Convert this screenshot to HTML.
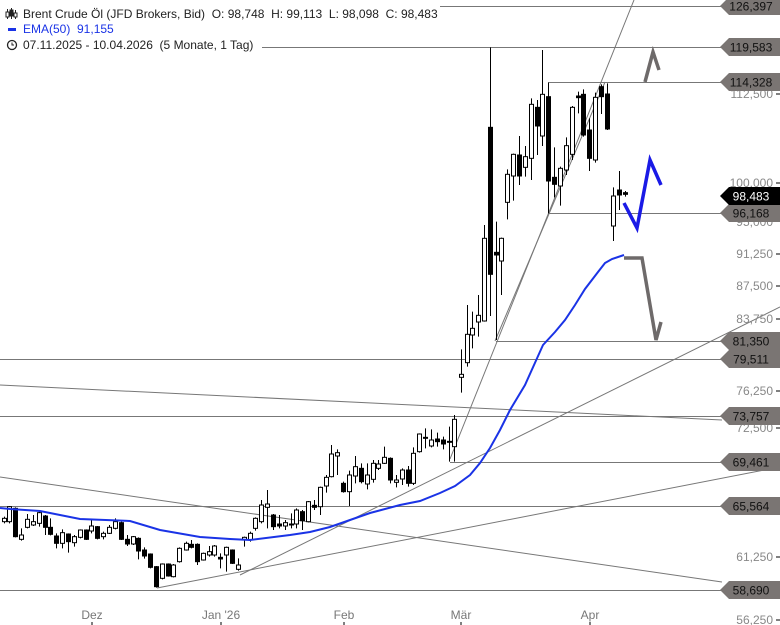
<!DOCTYPE html>
<html><head><meta charset="utf-8"><style>
body{margin:0;background:#fff;}
svg{display:block;font-family:"Liberation Sans",sans-serif;}
.pre{white-space:pre;}
</style></head><body>
<svg id="s" width="780" height="625" xmlns="http://www.w3.org/2000/svg">
<g stroke="#777" stroke-width="1" fill="none">
<line x1="0" y1="6.5" x2="722" y2="6.5"/>
<line x1="0" y1="47.5" x2="722" y2="47.5"/>
<line x1="548" y1="82.5" x2="722" y2="82.5"/>
<line x1="548" y1="213.5" x2="722" y2="213.5"/>
<line x1="496" y1="341.5" x2="722" y2="341.5"/>
<line x1="0" y1="359.5" x2="722" y2="359.5"/>
<line x1="0" y1="416.5" x2="722" y2="416.5"/>
<line x1="450" y1="462.5" x2="722" y2="462.5"/>
<line x1="0" y1="506.5" x2="722" y2="506.5"/>
<line x1="0" y1="590.5" x2="722" y2="590.5"/>
<line x1="0" y1="385" x2="722" y2="420"/>
<line x1="0" y1="477" x2="722" y2="582"/>
<line x1="157" y1="588" x2="780" y2="467"/>
<line x1="240" y1="575" x2="780" y2="307"/>
<line x1="450" y1="459" x2="634" y2="0"/>
<line x1="495" y1="341" x2="605" y2="82"/>
</g>
<g id="c"></g>
<polyline fill="none" stroke="#1a33e6" stroke-width="2" points="0,508 10,509 40,511 80,519 130,521 160,530 200,537 230,539 250,540 290,535 310,532 330,527 370,513 400,505 420,501 440,493 455,486 470,475 480,463 490,448 500,430 510,410 525,385 543,345 555,332 565,320 575,305 585,289 598,272 605,263 612,259 624,255"/>
<polyline fill="none" stroke="#6e6a6a" stroke-width="3.5" points="645,82 653,52 659,70"/>
<polyline fill="none" stroke="#1a1ae6" stroke-width="3.5" points="624,203 637,228 650,160 661,185"/>
<polyline fill="none" stroke="#6e6a6a" stroke-width="3.5" points="624,258 642,258 656,340 661,322"/>
<g font-size="12" fill="#888" text-anchor="end">
<text x="773" y="98">112,500</text>
<text x="773" y="187">100,000</text>
<text x="773" y="226">95,000</text>
<text x="773" y="258">91,250</text>
<text x="773" y="290">87,500</text>
<text x="773" y="323">83,750</text>
<text x="773" y="395">76,250</text>
<text x="773" y="432">72,500</text>
<text x="773" y="561">61,250</text>
<text x="773" y="624">56,250</text>
</g>
<g stroke="#000"><line x1="776" y1="94" x2="780" y2="94"/><line x1="776" y1="183" x2="780" y2="183"/><line x1="776" y1="254" x2="780" y2="254"/><line x1="776" y1="286" x2="780" y2="286"/><line x1="776" y1="319" x2="780" y2="319"/><line x1="776" y1="391" x2="780" y2="391"/><line x1="776" y1="428" x2="780" y2="428"/><line x1="776" y1="557" x2="780" y2="557"/><line x1="776" y1="620" x2="780" y2="620"/></g>
<g id="tags" font-size="12" text-anchor="middle"></g>
<g font-size="12" fill="#777" text-anchor="middle">
<text x="92" y="619">Dez</text><text x="221" y="619">Jan '26</text><text x="344" y="619">Feb</text><text x="461" y="619">Mär</text><text x="590" y="619">Apr</text>
</g>
<g stroke="#000"><line x1="92" y1="622" x2="92" y2="625"/><line x1="221" y1="622" x2="221" y2="625"/><line x1="344" y1="622" x2="344" y2="625"/><line x1="461" y1="622" x2="461" y2="625"/><line x1="590" y1="622" x2="590" y2="625"/></g>
<rect x="0" y="0" width="440" height="13" fill="#fff"/>
<rect x="0" y="38" width="262" height="16" fill="#fff"/>
<g stroke="#222" fill="none">
<line x1="7.5" y1="9" x2="7.5" y2="19"/><rect x="6" y="12" width="3" height="5" fill="#fff"/>
<line x1="11.5" y1="8" x2="11.5" y2="19"/><rect x="10" y="10" width="3" height="6" fill="#222"/>
<line x1="15.5" y1="10" x2="15.5" y2="19"/><rect x="14" y="13" width="3" height="4" fill="#fff"/>
</g>
<g font-size="12" fill="#222">
<text x="23" y="18" class="pre">Brent Crude Öl (JFD Brokers, Bid)  O: 98,748  H: 99,113  L: 98,098  C: 98,483</text>
<rect x="8" y="28" width="8" height="3" fill="#1a33e6"/>
<text x="23" y="33" fill="#1a33e6" class="pre">EMA(50)  91,155</text>
<circle cx="12" cy="45" r="4.5" fill="none" stroke="#222" stroke-width="1.3"/>
<path d="M12 42.5V45h2" fill="none" stroke="#222"/>
<text x="23" y="49" class="pre">07.11.2025 - 10.04.2026  (5 Monate, 1 Tag)</text>
</g>
</svg>
<script>
var NS="http://www.w3.org/2000/svg",g=document.getElementById('c');
function add(ox,oy,arr){arr.forEach(function(d){var x=Math.round(ox+d[0]/3)+.5,b1=oy+d[1]/3,b2=oy+d[2]/3,h=oy+d[3]/3,l=oy+d[4]/3;
var ln=document.createElementNS(NS,'line');ln.setAttribute('x1',x);ln.setAttribute('x2',x);ln.setAttribute('y1',h);ln.setAttribute('y2',l);ln.setAttribute('stroke','#000');g.appendChild(ln);
var r=document.createElementNS(NS,'rect');r.setAttribute('x',x-2);r.setAttribute('width',4);r.setAttribute('y',b1);r.setAttribute('height',Math.max(1,b2-b1));r.setAttribute('fill',d[5]?'#000':'#fff');r.setAttribute('stroke','#000');g.appendChild(r);});}
add(0,440,[[12,235,245,230,250,0],[28,200,245,198,250,0],[45,205,290,202,292,1],[63,285,298,265,302,0],[82,238,262,222,265,0],[99,245,255,225,258,0],[118,218,250,210,260,0],[135,228,262,225,285,1],[150,262,283,235,286,1],[168,288,310,280,325,1],[186,278,310,268,325,0],[205,282,305,280,338,1],[222,290,308,285,320,0],[240,270,292,268,295,0],[258,270,298,268,300,1],[274,258,273,240,280,0],[292,260,295,258,298,1],[310,280,290,275,298,0],[328,262,280,255,282,0],[346,245,265,235,268,0],[364,248,298,245,300,1],[382,298,312,285,318,1],[398,290,312,288,315,0],[415,295,333,292,358,1],[433,330,348,322,356,1],[450,342,382,340,385,1],[469,380,440,378,443,1],[487,372,415,370,418,0],[505,372,408,370,410,1],[520,375,410,372,412,0],[538,325,365,322,368,0],[557,310,330,305,332,0],[573,313,322,300,325,1],[592,313,365,310,375,1],[610,340,360,338,362,0],[627,335,345,318,350,0],[643,318,345,315,350,0],[660,352,357,340,385,1],[679,322,345,320,395,0],[697,330,370,328,372,1],[714,375,388,355,392,0]]);
add(240,400,[[12,412,420,410,440,0],[30,400,420,395,425,0],[45,355,385,352,392,0],[63,315,365,300,370,0],[80,312,322,270,385,0],[100,345,380,342,390,1],[118,372,378,345,385,1],[135,368,378,360,390,0],[152,372,375,340,385,0],[168,330,372,325,385,0],[187,335,362,330,390,1],[205,305,365,303,367,0],[222,316,322,300,330,1],[240,262,320,260,345,0],[258,232,258,225,278,0],[273,162,230,135,232,0],[291,158,168,148,225,0],[310,250,275,245,278,1],[328,225,275,212,318,0],[346,200,228,168,250,0],[364,205,245,190,250,1],[382,225,252,190,268,0],[398,190,238,180,248,0],[415,192,205,180,210,0],[432,172,190,140,192,0],[451,175,240,172,250,1],[469,240,247,225,262,0],[487,210,237,205,255,0],[505,210,250,198,260,1],[520,160,250,142,255,0],[538,102,155,100,158,0],[556,112,115,85,145,1],[573,120,138,88,142,0],[591,117,125,98,140,1],[610,120,132,110,148,1],[627,124,127,80,185,1],[643,58,140,45,185,0]]);
add(440,40,[[62,1003,1012,928,1058,0],[80,883,968,795,980,0],[97,865,885,815,925,0],[115,826,846,765,890,0],[133,595,843,555,845,0],[151,262,703,22,828,1],[167,637,645,545,900,1],[184,595,663,593,765,0],[202,403,487,388,538,0],[220,343,408,341,482,0],[238,345,408,288,435,1],[256,350,382,318,410,0],[274,193,355,175,420,0],[290,202,258,180,345,1],[307,163,288,30,318,0],[325,170,423,128,520,1],[343,412,433,322,472,1],[361,385,438,380,497,0],[379,317,390,292,405,0],[397,202,343,198,360,0],[413,168,173,155,220,1],[430,163,285,148,290,1],[448,270,355,235,393,1],[466,172,360,158,368,0],[484,140,170,133,222,1],[502,162,267,130,270,1],[520,468,558,442,603,0],[537,450,465,393,510,1],[554,458,463,453,470,1]]);
var tg=document.getElementById('tags');
[[6,'126,397'],[47,'119,583'],[82,'114,328'],[213,'96,168'],[341,'81,350'],[359,'79,511'],[416,'73,757'],[462,'69,461'],[506,'65,564'],[590,'58,690'],[196,'98,483',1]].forEach(function(t){
var y=t[0],p=document.createElementNS(NS,'path');p.setAttribute('d','M720 '+y+' L729 '+(y-9)+' H780 V'+(y+9)+' H729 Z');p.setAttribute('fill',t[2]?'#000':'#7a7573');tg.appendChild(p);
var tx=document.createElementNS(NS,'text');tx.setAttribute('x',751);tx.setAttribute('y',y+4.5);tx.setAttribute('fill',t[2]?'#fff':'#111');tx.textContent=t[1];tg.appendChild(tx);});
</script>
</body></html>
